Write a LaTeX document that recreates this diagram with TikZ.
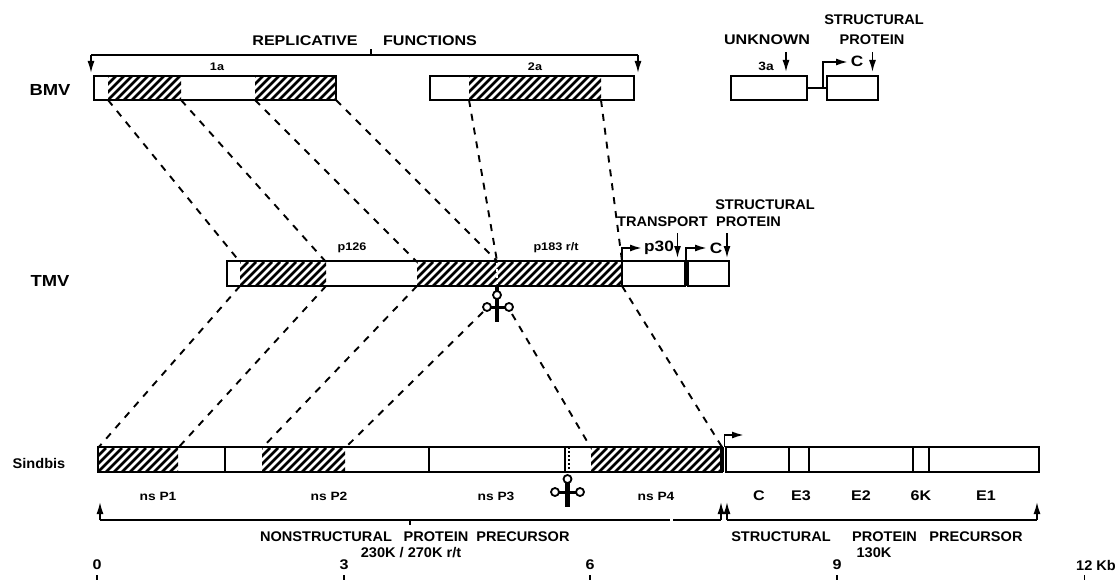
\documentclass[tikz,border=0pt]{standalone}
\usepackage{fontspec}
\setmainfont{Liberation Sans}[FakeStretch=1.15]
\newfontfamily\narrowfam{Liberation Sans}[FakeStretch=1.04]
\usetikzlibrary{arrows.meta}
\tikzset{
  lab/.style={font=\fontsize{14}{15}\selectfont\bfseries,inner sep=0,text=black},
  nlab/.style={font=\narrowfam\fontsize{14}{15}\selectfont\bfseries,inner sep=0,text=black},
  smalllab/.style={font=\fontsize{11}{12}\selectfont\bfseries,inner sep=0},
  nslab/.style={font=\fontsize{12}{13}\selectfont\bfseries,inner sep=0},
  biglab/.style={font=\fontsize{15}{16}\selectfont\bfseries,inner sep=0},
  hugelab/.style={font=\fontsize{16}{17}\selectfont\bfseries,inner sep=0},
  barbox/.style={draw,line width=1.8pt,anchor=north west,inner sep=0,outer sep=0,minimum height=24pt},
  hatchbox/.style={anchor=north west,inner sep=0,outer sep=0,minimum height=24pt},
  homology/.style={line width=1.9pt,dash pattern=on 7pt off 7pt},
  tipline/.style={line width=1.6pt,-{Latex[length=12pt,width=7pt]}},
  bentline/.style={line width=1.8pt,-{Latex[length=12pt,width=7pt]}},
  bracket/.style={line width=1.6pt},
  loopring/.style={draw,circle,line width=1.8pt,minimum size=8pt,inner sep=0,fill=white},
}
% hatch strokes clipped to a rectangle: x1, x2, y1, y2
\newcommand{\hatcharea}[4]{%
  \begin{scope}
    \clip (#1,#3) rectangle (#2,#4);
    \pgfmathsetmacro{\hstart}{#1-24}
    \pgfmathsetmacro{\hnext}{#1-16}
    \foreach \hx in {\hstart,\hnext,...,#2}
      \draw[line width=2.6pt] (\hx,#4) -- (\hx+24,#3);
  \end{scope}}
\begin{document}
\begin{tikzpicture}[x=1pt,y=-1pt]
\useasboundingbox (0,0) rectangle (1115,580);
\fill[white] (0,0) rectangle (1115,580);

% ---------- hatched regions
\node[hatchbox,minimum width=73pt] (bh1) at (108,76) {};
\node[hatchbox,minimum width=81pt] (bh2) at (255,76) {};
\node[hatchbox,minimum width=132pt] (bh3) at (469,76) {};
\node[hatchbox,minimum width=86pt] (th1) at (240,262) {};
\node[hatchbox,minimum width=204pt] (th2) at (417,262) {};
\node[hatchbox,minimum width=80pt] (sh1) at (98,448) {};
\node[hatchbox,minimum width=83pt] (sh2) at (262,448) {};
\node[hatchbox,minimum width=131pt] (sh3) at (591,448) {};
\hatcharea{108}{181}{76}{100}
\hatcharea{255}{336}{76}{100}
\hatcharea{469}{601}{76}{100}
\hatcharea{240}{326}{262}{286}
\hatcharea{417}{621}{262}{286}
\hatcharea{98}{178}{448}{472}
\hatcharea{262}{345}{448}{472}
\hatcharea{591}{722}{448}{472}

% ---------- boxes
\node[barbox,minimum width=242pt] (b1a) at (94,76) {};
\node[barbox,minimum width=204pt] (b2a) at (430,76) {};
\node[barbox,minimum width=76pt] (b3a) at (731,76) {};
\node[barbox,minimum width=51pt] (bC) at (827,76) {};
\node[barbox,minimum width=395pt,minimum height=25pt] (tA) at (227,261) {};
\node[barbox,minimum width=63pt,minimum height=25pt] (tB) at (622,261) {};
\node[barbox,minimum width=41pt,minimum height=25pt] (tC) at (688,261) {};
\node[barbox,minimum width=624pt,minimum height=25pt] (sA) at (98,447) {};
\node[barbox,minimum width=313pt,minimum height=25pt] (sB) at (726,447) {};

\draw[line width=1.8pt] (b3a.east) -- (bC.west);
\draw[line width=3pt] (tB.north east) -- (tB.south east);
\draw[line width=3.5pt] (sA.north east) -- (sA.south east);

% separators in Sindbis
\foreach \xx in {225,429,565}
  \draw[line width=1.8pt] (\xx,447) -- (\xx,472);
\draw[line width=1.8pt,dash pattern=on 2pt off 2pt] (569,447) -- (569,472);
\foreach \xx in {789,809,913,929}
  \draw[line width=1.8pt] (\xx,447) -- (\xx,472);

% ---------- homology dashes
\coordinate (scL) at (483,312);
\coordinate (scR) at (512,314);
\coordinate (mid) at (497,261);
\draw[homology] (bh1.south west) -- (th1.north west);
\draw[homology] (bh1.south east) -- (th1.north east);
\draw[homology] (bh2.south west) -- (th2.north west);
\draw[homology] (bh2.south east) -- (mid);
\draw[homology] (bh3.south west) -- (mid);
\draw[homology] (bh3.south east) -- (tA.north east);
\draw[homology] (th1.south west) -- (sh1.north west);
\draw[homology] (th1.south east) -- (sh1.north east);
\draw[homology] (th2.south west) -- (sh2.north west);
\draw[homology] (scL) -- (sh2.north east);
\draw[homology] (scR) -- (sh3.north west);
\draw[homology] (tA.south east) -- (sA.north east);

% ---------- scissors TMV
\draw[white,line width=1.8pt,dash pattern=on 3pt off 3pt] (497,263) -- (497,285);
\draw[line width=4.5pt] (497,286) -- (497,322);
\draw[line width=3pt] (487,307) -- (509,307);
\node[loopring] (s1t) at (497,295) {};
\node[loopring] (s1l) at (487,307) {};
\node[loopring] (s1r) at (509,307) {};
% ---------- scissors Sindbis
\draw[line width=4.5pt] (567.5,483) -- (567.5,507);
\draw[line width=3pt] (555,492) -- (580,492);
\node[loopring] (s2t) at (567.5,479) {};
\node[loopring] (s2l) at (555,492) {};
\node[loopring] (s2r) at (580,492) {};

% ---------- top bracket
\coordinate (bl) at (91,73);
\coordinate (br) at (638,73);
\coordinate (blt) at (91,55);
\coordinate (brt) at (638,55);
\draw[tipline] (blt) -- (bl);
\draw[tipline] (brt) -- (br);
\draw[bracket] (blt) -- (brt);
\draw[bracket] (371,55) -- (371,49);

% ---------- bottom brackets
\coordinate (n1) at (100,502);
\coordinate (n2) at (721,502);
\coordinate (n3) at (727,502);
\coordinate (n4) at (1037,502);
\draw[tipline] (100,520) -- (n1);
\draw[tipline] (721,520) -- (n2);
\draw[tipline] (727,520) -- (n3);
\draw[tipline] (1037,520) -- (n4);
\draw[bracket] (100,520) -- (670,520) (673,520) -- (721,520);
\draw[bracket] (727,520) -- (1037,520);
\draw[bracket] (410,520) -- (410,525);

% ---------- bent and short arrows
\coordinate (a1) at (848,62);
\draw[bentline] (823,87) |- (a1);
\coordinate (a2) at (642,248);
\draw[bentline] (tB.north west) |- (a2);
\coordinate (a3) at (707,248);
\draw[bentline] (686,261) |- (a3);
\coordinate (a4) at (744,435);
\draw[bentline] (724.5,447) |- (a4);
\coordinate (u1) at (786,52); \coordinate (u2) at (786,72);
\draw[tipline] (u1) -- (u2);
\coordinate (u3) at (872.5,52); \coordinate (u4) at (872.5,72);
\draw[tipline] (u3) -- (u4);
\coordinate (u5) at (677.5,233); \coordinate (u6) at (677.5,258);
\draw[tipline] (u5) -- (u6);
\coordinate (u7) at (727,233); \coordinate (u8) at (727,258);
\draw[tipline] (u7) -- (u8);

% ---------- texts
\node[hugelab] (tBMV) at (50,90) {BMV};
\node[hugelab] (tTMV) at (50,281) {TMV};
\node[nlab] (tSin) at (39,463) {Sindbis};
\node[lab] (tRep) at (305,41) {REPLICATIVE};
\node[lab] (tFun) at (430,41) {FUNCTIONS};
\node[smalllab] (t1a) at (217,67) {1a};
\node[smalllab] (t2a) at (535,67) {2a};
\node[lab] (tUnk) at (767,40) {UNKNOWN};
\node[nlab] (tStr) at (874,20) {STRUCTURAL};
\node[nlab] (tPro) at (872,40) {PROTEIN};
\node[nslab] (t3a) at (766,66) {3a};
\node[biglab] (tC1) at (857,61) {C};
\node[nlab] (tStr2) at (765,205) {STRUCTURAL};
\node[nlab] (tPro2) at (748.5,222) {PROTEIN};
\node[nlab] (tTra) at (662.5,222) {TRANSPORT};
\node[biglab] (tp30) at (659,248) {p30};
\node[biglab] (tC2) at (716,248) {C};
\node[smalllab] (tp126) at (352,248) {p126};
\node[smalllab] (tp183) at (556,248) {p183 r/t};
\node[nslab] (np1) at (158,496) {ns P1};
\node[nslab] (np2) at (329,496) {ns P2};
\node[nslab] (np3) at (496,496) {ns P3};
\node[nslab] (np4) at (656,496) {ns P4};
\node[lab] (lC) at (759,496) {C};
\node[lab] (lE3) at (801,496) {E3};
\node[lab] (lE2) at (861,496) {E2};
\node[lab] (l6K) at (921,496) {6K};
\node[lab] (lE1) at (986,496) {E1};
\node[nlab] (tNon) at (326,537) {NONSTRUCTURAL};
\node[nlab] (tPr3) at (436,537) {PROTEIN};
\node[nlab] (tPc1) at (523,537) {PRECURSOR};
\node[nlab] (t230) at (411,553) {230K / 270K r/t};
\node[nlab] (tStr3) at (781,537) {STRUCTURAL};
\node[nlab] (tPr4) at (884.5,537) {PROTEIN};
\node[nlab] (tPc2) at (976,537) {PRECURSOR};
\node[nlab] (t130) at (874,553) {130K};
\node[lab] (x0) at (97,565) {0};
\node[lab] (x3) at (344,565) {3};
\node[lab] (x6) at (590,565) {6};
\node[lab] (x9) at (837,565) {9};
\node[nlab] (x12) at (1096,565) {12 Kb};
\foreach \xx in {97,344,590,837,1084.5}
  \draw[line width=1.6pt] (\xx,575) -- (\xx,580);
\end{tikzpicture}
\end{document}
